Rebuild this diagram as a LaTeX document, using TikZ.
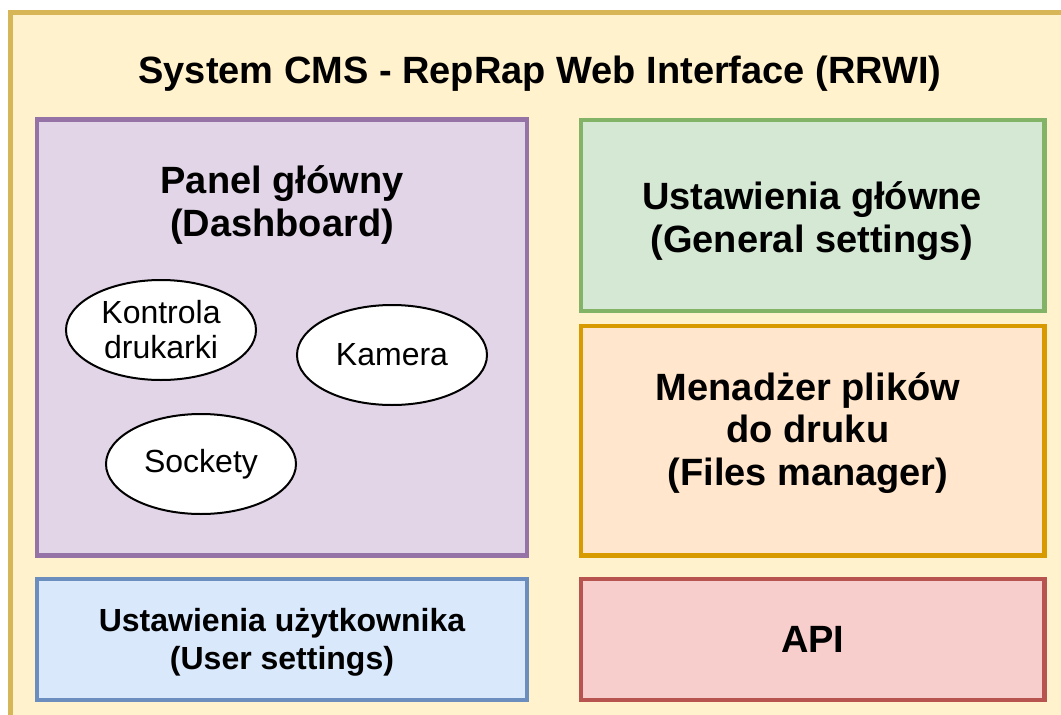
\documentclass[tikz,border=0pt]{standalone}
\usepackage{fontspec}
\setmainfont{Liberation Sans}
\usetikzlibrary{shapes.geometric}
\definecolor{outerfill}{HTML}{FFF2CC}\definecolor{outerline}{HTML}{D6B656}
\definecolor{purfill}{HTML}{E1D5E7}\definecolor{purline}{HTML}{9673A6}
\definecolor{grnfill}{HTML}{D5E8D4}\definecolor{grnline}{HTML}{82B366}
\definecolor{orgfill}{HTML}{FFE6CC}\definecolor{orgline}{HTML}{D79B00}
\definecolor{blufill}{HTML}{DAE8FC}\definecolor{bluline}{HTML}{6C8EBF}
\definecolor{redfill}{HTML}{F8CECC}\definecolor{redline}{HTML}{B85450}
\tikzset{
  box/.style={draw, line width=4.5pt, inner sep=0pt, outer sep=0pt, align=center},
  big/.style={font=\fontsize{38}{42.5}\selectfont\bfseries, align=center},
  mid/.style={font=\fontsize{32}{38}\selectfont\bfseries, align=center},
  oval/.style={ellipse, draw=black, line width=2pt, fill=white, inner sep=0pt,
    minimum width=190pt, minimum height=100pt, align=center,
    font=\fontsize{32}{35}\selectfont},
}
\begin{document}
\begin{tikzpicture}[x=1pt,y=-1pt]
\useasboundingbox (0,0) rectangle (1061,715);
\clip (0,0) rectangle (1061,715);
\fill[white] (0,0) rectangle (1061,715);
\node[box, draw=outerline, fill=outerfill, line width=5pt, anchor=north west,
  minimum width=1080pt, minimum height=730pt] (outer) at (10.5,12) {};
\node[big] (title) at (540,74) {System CMS - RepRap Web Interface (RRWI)};
\node[box, draw=purline, fill=purfill, anchor=north west,
  minimum width=490pt, minimum height=436pt] (dash) at (37,119.5) {};
\node[big] (dashlbl) at (282,205) {Panel główny\\(Dashboard)};
\node[oval] (ctrl) at (161,330) {Kontrola\\drukarki};
\node[oval] (cam) at (392,355) {Kamera};
\node[oval] (sock) at (201,464) {Sockety};
\node[box, draw=grnline, fill=grnfill, anchor=north west,
  minimum width=463.5pt, minimum height=191pt] (gen) at (581,120) {};
\node[big] (genlbl) at (812,221) {Ustawienia główne\\(General settings)};
\node[box, draw=orgline, fill=orgfill, anchor=north west,
  minimum width=463.5pt, minimum height=229.5pt] (files) at (581,326) {};
\node[big] (fileslbl) at (808,433) {Menadżer plików\\do druku\\(Files manager)};
\node[box, draw=bluline, fill=blufill, anchor=north west,
  minimum width=490pt, minimum height=121pt] (user) at (37,579) {};
\node[mid] (userlbl) at (282,642.5) {Ustawienia użytkownika\\(User settings)};
\node[box, draw=redline, fill=redfill, anchor=north west,
  minimum width=463.5pt, minimum height=121pt, big] (api) at (581,579) {API};
\end{tikzpicture}
\end{document}
